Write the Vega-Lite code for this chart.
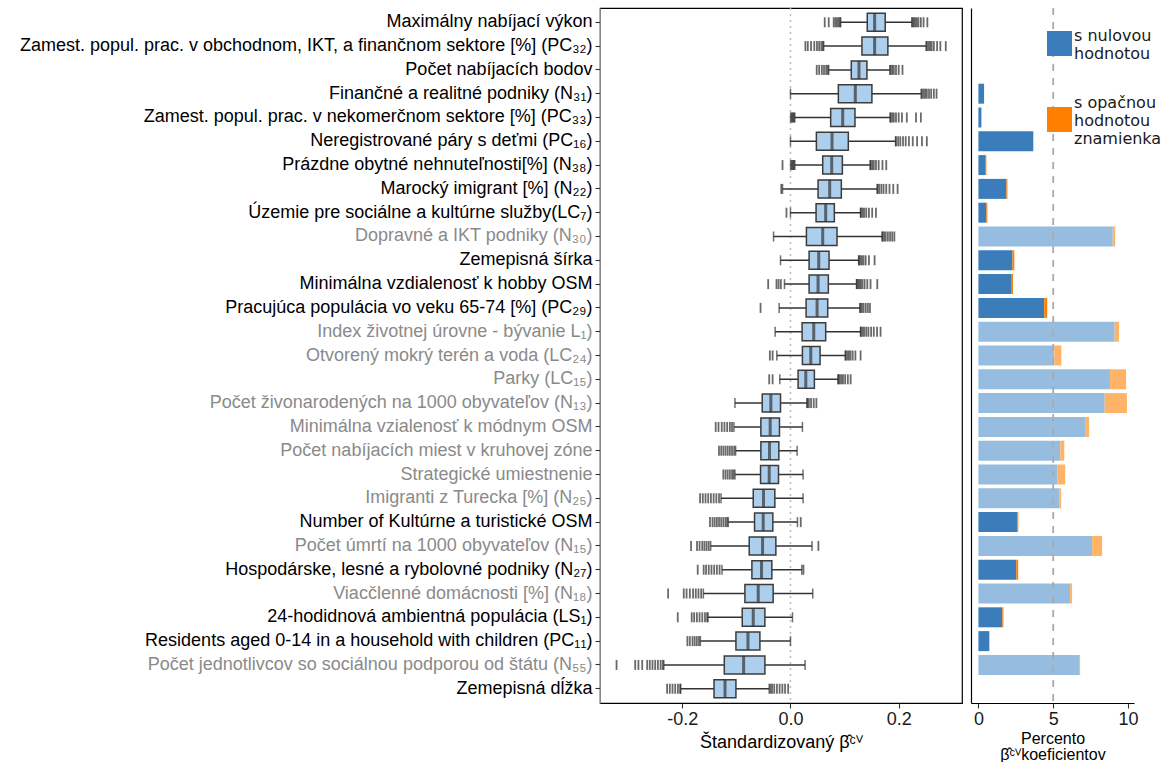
{
  "$schema": "https://vega.github.io/schema/vega-lite/v6.json",
  "padding": {"left": 18, "top": 6, "right": 0, "bottom": 0},
  "background": "white",
  "datasets": {
    "boxes": [
      {"id": 1, "name": "Maximálny nabíjací výkon", "lo": 0.0928, "q1": 0.1419, "med": 0.1555, "q3": 0.1751, "hi": 0.2243},
      {"id": 2, "name": "Zamest. popul. prac. v obchodnom, IKT, a finančnom sektore [%] (PC₃₂)", "lo": 0.0614, "q1": 0.1321, "med": 0.1555, "q3": 0.18, "hi": 0.2507},
      {"id": 3, "name": "Počet nabíjacích bodov", "lo": 0.0707, "q1": 0.1124, "med": 0.1266, "q3": 0.1413, "hi": 0.1837},
      {"id": 4, "name": "Finančné a realitné podniky (N₃₁)", "lo": 0.0, "q1": 0.0885, "med": 0.1198, "q3": 0.1505, "hi": 0.2415},
      {"id": 5, "name": "Zamest. popul. prac. v nekomerčnom sektore [%] (PC₃₃)", "lo": 0.008, "q1": 0.0743, "med": 0.0965, "q3": 0.1192, "hi": 0.1843},
      {"id": 6, "name": "Neregistrované páry s deťmi (PC₁₆)", "lo": 0.0, "q1": 0.0479, "med": 0.0768, "q3": 0.1069, "hi": 0.1942},
      {"id": 7, "name": "Prázdne obytné nehnuteľnosti[%] (N₃₈)", "lo": 0.008, "q1": 0.0596, "med": 0.0762, "q3": 0.0959, "hi": 0.1475},
      {"id": 8, "name": "Marocký imigrant [%] (N₂₂)", "lo": -0.0147, "q1": 0.051, "med": 0.0725, "q3": 0.094, "hi": 0.1604},
      {"id": 9, "name": "Územie pre sociálne a kultúrne služby(LC₇)", "lo": 0.0, "q1": 0.0473, "med": 0.0651, "q3": 0.0811, "hi": 0.1296},
      {"id": 10, "name": "Dopravné a IKT podniky (N₃₀)", "lo": -0.0313, "q1": 0.0295, "med": 0.0596, "q3": 0.086, "hi": 0.1696},
      {"id": 11, "name": "Zemepisná šírka", "lo": -0.0184, "q1": 0.0344, "med": 0.0522, "q3": 0.0713, "hi": 0.126},
      {"id": 12, "name": "Minimálna vzdialenosť k hobby OSM", "lo": -0.0111, "q1": 0.0344, "med": 0.051, "q3": 0.07, "hi": 0.1223},
      {"id": 13, "name": "Pracujúca populácia vo veku 65-74 [%] (PC₂₉)", "lo": -0.0209, "q1": 0.0289, "med": 0.0492, "q3": 0.0688, "hi": 0.1284},
      {"id": 14, "name": "Index životnej úrovne - bývanie L₁)", "lo": -0.0283, "q1": 0.0215, "med": 0.043, "q3": 0.0651, "hi": 0.1296},
      {"id": 15, "name": "Otvorený mokrý terén a voda (LC₂₄)", "lo": -0.0252, "q1": 0.0221, "med": 0.0375, "q3": 0.0547, "hi": 0.1014},
      {"id": 16, "name": "Parky (LC₁₅)", "lo": -0.0197, "q1": 0.0141, "med": 0.0283, "q3": 0.0442, "hi": 0.0879},
      {"id": 17, "name": "Počet živonarodených na 1000 obyvateľov (N₁₃)", "lo": -0.1026, "q1": -0.0522, "med": -0.0363, "q3": -0.0184, "hi": 0.0307},
      {"id": 18, "name": "Minimálna vzialenosť k módnym OSM", "lo": -0.1045, "q1": -0.0547, "med": -0.0375, "q3": -0.0203, "hi": 0.0221},
      {"id": 19, "name": "Počet nabíjacích miest v kruhovej zóne", "lo": -0.1014, "q1": -0.0547, "med": -0.0387, "q3": -0.0215, "hi": 0.0123},
      {"id": 20, "name": "Strategické umiestnenie", "lo": -0.1026, "q1": -0.0553, "med": -0.0393, "q3": -0.0221, "hi": 0.0233},
      {"id": 21, "name": "Imigranti z Turecka [%] (N₂₅)", "lo": -0.1284, "q1": -0.0688, "med": -0.0498, "q3": -0.0289, "hi": 0.0233},
      {"id": 22, "name": "Number of Kultúrne a turistické OSM", "lo": -0.1149, "q1": -0.0664, "med": -0.0504, "q3": -0.0326, "hi": 0.0129},
      {"id": 23, "name": "Počet úmrtí na 1000 obyvateľov (N₁₅)", "lo": -0.1475, "q1": -0.0762, "med": -0.0516, "q3": -0.027, "hi": 0.0399},
      {"id": 24, "name": "Hospodárske, lesné a rybolovné podniky (N₂₇)", "lo": -0.1266, "q1": -0.0713, "med": -0.0535, "q3": -0.0344, "hi": 0.0209},
      {"id": 25, "name": "Viacčlenné domácnosti [%] (N₁₈)", "lo": -0.161, "q1": -0.0842, "med": -0.0596, "q3": -0.032, "hi": 0.0412},
      {"id": 26, "name": "24-hodidnová ambientná populácia (LS₁)", "lo": -0.1524, "q1": -0.0891, "med": -0.0688, "q3": -0.0473, "hi": 0.0037},
      {"id": 27, "name": "Residents aged 0-14 in a household with children (PC₁₁)", "lo": -0.1665, "q1": -0.1008, "med": -0.0786, "q3": -0.0565, "hi": 0.0},
      {"id": 28, "name": "Počet jednotlivcov so sociálnou podporou od štátu (N₅₅)", "lo": -0.2341, "q1": -0.1223, "med": -0.0866, "q3": -0.0473, "hi": 0.027},
      {"id": 29, "name": "Zemepisná dĺžka", "lo": -0.2028, "q1": -0.1413, "med": -0.121, "q3": -0.1008, "hi": -0.0393}
    ],
    "outliers": [
      {"id": 1, "x": 0.0633}, {"id": 1, "x": 0.0707}, {"id": 1, "x": 0.0799}, {"id": 1, "x": 0.083}, {"id": 1, "x": 0.086}, {"id": 1, "x": 0.089}, {"id": 1, "x": 0.0915},
      {"id": 1, "x": 0.2255}, {"id": 1, "x": 0.228}, {"id": 1, "x": 0.2305}, {"id": 1, "x": 0.2335}, {"id": 1, "x": 0.2365}, {"id": 1, "x": 0.241}, {"id": 1, "x": 0.246}, {"id": 1, "x": 0.253},
      {"id": 2, "x": 0.0276}, {"id": 2, "x": 0.032}, {"id": 2, "x": 0.038}, {"id": 2, "x": 0.044}, {"id": 2, "x": 0.049}, {"id": 2, "x": 0.053}, {"id": 2, "x": 0.057}, {"id": 2, "x": 0.06},
      {"id": 2, "x": 0.252}, {"id": 2, "x": 0.255}, {"id": 2, "x": 0.258}, {"id": 2, "x": 0.261}, {"id": 2, "x": 0.265}, {"id": 2, "x": 0.271}, {"id": 2, "x": 0.277}, {"id": 2, "x": 0.287},
      {"id": 3, "x": 0.0485}, {"id": 3, "x": 0.053}, {"id": 3, "x": 0.058}, {"id": 3, "x": 0.062}, {"id": 3, "x": 0.066}, {"id": 3, "x": 0.069},
      {"id": 3, "x": 0.185}, {"id": 3, "x": 0.188}, {"id": 3, "x": 0.191}, {"id": 3, "x": 0.195}, {"id": 3, "x": 0.2}, {"id": 3, "x": 0.207},
      {"id": 4, "x": 0.243}, {"id": 4, "x": 0.246}, {"id": 4, "x": 0.249}, {"id": 4, "x": 0.252}, {"id": 4, "x": 0.256}, {"id": 4, "x": 0.26}, {"id": 4, "x": 0.265}, {"id": 4, "x": 0.27},
      {"id": 5, "x": 0.0005}, {"id": 5, "x": 0.0025}, {"id": 5, "x": 0.0045}, {"id": 5, "x": 0.0065},
      {"id": 5, "x": 0.185}, {"id": 5, "x": 0.188}, {"id": 5, "x": 0.191}, {"id": 5, "x": 0.195}, {"id": 5, "x": 0.2}, {"id": 5, "x": 0.206}, {"id": 5, "x": 0.215}, {"id": 5, "x": 0.232}, {"id": 5, "x": 0.241},
      {"id": 6, "x": 0.195}, {"id": 6, "x": 0.199}, {"id": 6, "x": 0.203}, {"id": 6, "x": 0.208}, {"id": 6, "x": 0.213}, {"id": 6, "x": 0.219}, {"id": 6, "x": 0.226}, {"id": 6, "x": 0.234}, {"id": 6, "x": 0.243}, {"id": 6, "x": 0.252},
      {"id": 7, "x": -0.0147}, {"id": 7, "x": 0.0005}, {"id": 7, "x": 0.0025}, {"id": 7, "x": 0.0045}, {"id": 7, "x": 0.0065},
      {"id": 7, "x": 0.148}, {"id": 7, "x": 0.151}, {"id": 7, "x": 0.154}, {"id": 7, "x": 0.158}, {"id": 7, "x": 0.163}, {"id": 7, "x": 0.17}, {"id": 7, "x": 0.177},
      {"id": 8, "x": -0.017},
      {"id": 8, "x": 0.161}, {"id": 8, "x": 0.164}, {"id": 8, "x": 0.168}, {"id": 8, "x": 0.172}, {"id": 8, "x": 0.177}, {"id": 8, "x": 0.183}, {"id": 8, "x": 0.19}, {"id": 8, "x": 0.198},
      {"id": 9, "x": -0.0074},
      {"id": 9, "x": 0.13}, {"id": 9, "x": 0.133}, {"id": 9, "x": 0.136}, {"id": 9, "x": 0.14}, {"id": 9, "x": 0.145}, {"id": 9, "x": 0.151}, {"id": 9, "x": 0.158},
      {"id": 10, "x": 0.17}, {"id": 10, "x": 0.173}, {"id": 10, "x": 0.176}, {"id": 10, "x": 0.18}, {"id": 10, "x": 0.184}, {"id": 10, "x": 0.188}, {"id": 10, "x": 0.192},
      {"id": 11, "x": 0.1265}, {"id": 11, "x": 0.129}, {"id": 11, "x": 0.132}, {"id": 11, "x": 0.135}, {"id": 11, "x": 0.139}, {"id": 11, "x": 0.145}, {"id": 11, "x": 0.1555},
      {"id": 12, "x": -0.0412}, {"id": 12, "x": -0.0258}, {"id": 12, "x": -0.022}, {"id": 12, "x": -0.0178},
      {"id": 12, "x": 0.1225}, {"id": 12, "x": 0.125}, {"id": 12, "x": 0.1275}, {"id": 12, "x": 0.13}, {"id": 12, "x": 0.133}, {"id": 12, "x": 0.137}, {"id": 12, "x": 0.142}, {"id": 12, "x": 0.148}, {"id": 12, "x": 0.1604},
      {"id": 13, "x": -0.0553},
      {"id": 13, "x": 0.129}, {"id": 13, "x": 0.132}, {"id": 13, "x": 0.135}, {"id": 13, "x": 0.139}, {"id": 13, "x": 0.143}, {"id": 13, "x": 0.1469},
      {"id": 14, "x": 0.13}, {"id": 14, "x": 0.133}, {"id": 14, "x": 0.136}, {"id": 14, "x": 0.14}, {"id": 14, "x": 0.144}, {"id": 14, "x": 0.149}, {"id": 14, "x": 0.154}, {"id": 14, "x": 0.16}, {"id": 14, "x": 0.1665},
      {"id": 15, "x": -0.0381}, {"id": 15, "x": -0.033},
      {"id": 15, "x": 0.102}, {"id": 15, "x": 0.105}, {"id": 15, "x": 0.108}, {"id": 15, "x": 0.111}, {"id": 15, "x": 0.115}, {"id": 15, "x": 0.12}, {"id": 15, "x": 0.1296},
      {"id": 16, "x": -0.0393}, {"id": 16, "x": -0.033},
      {"id": 16, "x": 0.0885}, {"id": 16, "x": 0.091}, {"id": 16, "x": 0.094}, {"id": 16, "x": 0.097}, {"id": 16, "x": 0.101}, {"id": 16, "x": 0.106}, {"id": 16, "x": 0.1112},
      {"id": 17, "x": 0.031}, {"id": 17, "x": 0.034}, {"id": 17, "x": 0.038}, {"id": 17, "x": 0.043}, {"id": 17, "x": 0.0479},
      {"id": 18, "x": -0.1382}, {"id": 18, "x": -0.133}, {"id": 18, "x": -0.127}, {"id": 18, "x": -0.122}, {"id": 18, "x": -0.117}, {"id": 18, "x": -0.112}, {"id": 18, "x": -0.108},
      {"id": 19, "x": -0.1321}, {"id": 19, "x": -0.128}, {"id": 19, "x": -0.124}, {"id": 19, "x": -0.12}, {"id": 19, "x": -0.116}, {"id": 19, "x": -0.112}, {"id": 19, "x": -0.108}, {"id": 19, "x": -0.104},
      {"id": 20, "x": -0.1241}, {"id": 20, "x": -0.12}, {"id": 20, "x": -0.116}, {"id": 20, "x": -0.112}, {"id": 20, "x": -0.108}, {"id": 20, "x": -0.105},
      {"id": 21, "x": -0.1671}, {"id": 21, "x": -0.162}, {"id": 21, "x": -0.157}, {"id": 21, "x": -0.152}, {"id": 21, "x": -0.147}, {"id": 21, "x": -0.142}, {"id": 21, "x": -0.137}, {"id": 21, "x": -0.132},
      {"id": 22, "x": -0.1487}, {"id": 22, "x": -0.144}, {"id": 22, "x": -0.14}, {"id": 22, "x": -0.136}, {"id": 22, "x": -0.132}, {"id": 22, "x": -0.128}, {"id": 22, "x": -0.124}, {"id": 22, "x": -0.12}, {"id": 22, "x": -0.117},
      {"id": 22, "x": 0.019},
      {"id": 23, "x": -0.1837}, {"id": 23, "x": -0.1727}, {"id": 23, "x": -0.168}, {"id": 23, "x": -0.163}, {"id": 23, "x": -0.159}, {"id": 23, "x": -0.155}, {"id": 23, "x": -0.151},
      {"id": 23, "x": 0.0516},
      {"id": 24, "x": -0.1714}, {"id": 24, "x": -0.1604}, {"id": 24, "x": -0.156}, {"id": 24, "x": -0.151}, {"id": 24, "x": -0.146}, {"id": 24, "x": -0.141}, {"id": 24, "x": -0.136}, {"id": 24, "x": -0.131},
      {"id": 24, "x": 0.024},
      {"id": 25, "x": -0.2261}, {"id": 25, "x": -0.1972}, {"id": 25, "x": -0.192}, {"id": 25, "x": -0.186}, {"id": 25, "x": -0.18}, {"id": 25, "x": -0.175}, {"id": 25, "x": -0.17}, {"id": 25, "x": -0.165},
      {"id": 26, "x": -0.2083}, {"id": 26, "x": -0.1825}, {"id": 26, "x": -0.178}, {"id": 26, "x": -0.173}, {"id": 26, "x": -0.168}, {"id": 26, "x": -0.163}, {"id": 26, "x": -0.158}, {"id": 26, "x": -0.154},
      {"id": 27, "x": -0.1905}, {"id": 27, "x": -0.186}, {"id": 27, "x": -0.181}, {"id": 27, "x": -0.177}, {"id": 27, "x": -0.173}, {"id": 27, "x": -0.169},
      {"id": 28, "x": -0.3214}, {"id": 28, "x": -0.2869}, {"id": 28, "x": -0.281}, {"id": 28, "x": -0.274}, {"id": 28, "x": -0.2648}, {"id": 28, "x": -0.26}, {"id": 28, "x": -0.255}, {"id": 28, "x": -0.25}, {"id": 28, "x": -0.245}, {"id": 28, "x": -0.24}, {"id": 28, "x": -0.236},
      {"id": 29, "x": -0.228}, {"id": 29, "x": -0.223}, {"id": 29, "x": -0.218}, {"id": 29, "x": -0.213}, {"id": 29, "x": -0.208}, {"id": 29, "x": -0.204},
      {"id": 29, "x": -0.037}, {"id": 29, "x": -0.034}, {"id": 29, "x": -0.03}, {"id": 29, "x": -0.025}, {"id": 29, "x": -0.02}, {"id": 29, "x": -0.015}, {"id": 29, "x": -0.01}, {"id": 29, "x": -0.0043}
    ],
    "bars": [
      {"id": 4, "kat": "nula_v", "pct": 0.38},
      {"id": 5, "kat": "nula_v", "pct": 0.2},
      {"id": 6, "kat": "nula_v", "pct": 3.67},
      {"id": 7, "kat": "nula_v", "pct": 0.44}, {"id": 7, "kat": "opak_v", "pct": 0.09},
      {"id": 8, "kat": "nula_v", "pct": 1.87}, {"id": 8, "kat": "opak_v", "pct": 0.07},
      {"id": 9, "kat": "nula_v", "pct": 0.53}, {"id": 9, "kat": "opak_v", "pct": 0.07},
      {"id": 10, "kat": "nula_n", "pct": 8.98}, {"id": 10, "kat": "opak_n", "pct": 0.16},
      {"id": 11, "kat": "nula_v", "pct": 2.27}, {"id": 11, "kat": "opak_v", "pct": 0.13},
      {"id": 12, "kat": "nula_v", "pct": 2.18}, {"id": 12, "kat": "opak_v", "pct": 0.13},
      {"id": 13, "kat": "nula_v", "pct": 4.4}, {"id": 13, "kat": "opak_v", "pct": 0.2},
      {"id": 14, "kat": "nula_n", "pct": 9.11}, {"id": 14, "kat": "opak_n", "pct": 0.29},
      {"id": 15, "kat": "nula_n", "pct": 5.07}, {"id": 15, "kat": "opak_n", "pct": 0.47},
      {"id": 16, "kat": "nula_n", "pct": 8.8}, {"id": 16, "kat": "opak_n", "pct": 1.07},
      {"id": 17, "kat": "nula_n", "pct": 8.44}, {"id": 17, "kat": "opak_n", "pct": 1.49},
      {"id": 18, "kat": "nula_n", "pct": 7.13}, {"id": 18, "kat": "opak_n", "pct": 0.27},
      {"id": 19, "kat": "nula_n", "pct": 5.47}, {"id": 19, "kat": "opak_n", "pct": 0.27},
      {"id": 20, "kat": "nula_n", "pct": 5.27}, {"id": 20, "kat": "opak_n", "pct": 0.53},
      {"id": 21, "kat": "nula_n", "pct": 5.4}, {"id": 21, "kat": "opak_n", "pct": 0.13},
      {"id": 22, "kat": "nula_v", "pct": 2.6}, {"id": 22, "kat": "opak_v", "pct": 0.07},
      {"id": 23, "kat": "nula_n", "pct": 7.6}, {"id": 23, "kat": "opak_n", "pct": 0.67},
      {"id": 24, "kat": "nula_v", "pct": 2.53}, {"id": 24, "kat": "opak_v", "pct": 0.13},
      {"id": 25, "kat": "nula_n", "pct": 6.13}, {"id": 25, "kat": "opak_n", "pct": 0.13},
      {"id": 26, "kat": "nula_v", "pct": 1.6}, {"id": 26, "kat": "opak_v", "pct": 0.07},
      {"id": 27, "kat": "nula_v", "pct": 0.73},
      {"id": 28, "kat": "nula_n", "pct": 6.73}, {"id": 28, "kat": "opak_n", "pct": 0.07}
    ]
  },
  "spacing": 8,
  "hconcat": [
    {
      "width": 362,
      "height": 695,
      "view": {"stroke": "black", "strokeWidth": 1.2},
      "encoding": {
        "y": {
          "field": "name",
          "type": "nominal",
          "sort": {"field": "id", "op": "min"},
          "scale": {"paddingInner": 0, "paddingOuter": 0.1},
          "axis": {
            "title": null,
            "labelLimit": 800,
            "labelPadding": 3,
            "labelColor": {
              "condition": {
                "test": "indexof(['Dopravné a IKT podniky (N₃₀)', 'Index životnej úrovne - bývanie L₁)', 'Otvorený mokrý terén a voda (LC₂₄)', 'Parky (LC₁₅)', 'Počet živonarodených na 1000 obyvateľov (N₁₃)', 'Minimálna vzialenosť k módnym OSM', 'Počet nabíjacích miest v kruhovej zóne', 'Strategické umiestnenie', 'Imigranti z Turecka [%] (N₂₅)', 'Počet úmrtí na 1000 obyvateľov (N₁₅)', 'Viacčlenné domácnosti [%] (N₁₈)', 'Počet jednotlivcov so sociálnou podporou od štátu (N₅₅)'], datum.value) >= 0",
                "value": "#8a8a8a"
              },
              "value": "#000000"
            }
          }
        }
      },
      "layer": [
        {
          "data": {"values": [{"nula": 0}]},
          "mark": {"type": "rule", "color": "#bdbdbd", "strokeWidth": 1.5, "strokeDash": [2, 4]},
          "encoding": {"x": {"field": "nula", "type": "quantitative"}, "y": null}
        },
        {
          "data": {"name": "boxes"},
          "mark": {"type": "rule", "color": "#333333", "strokeWidth": 1.5},
          "encoding": {
            "x": {
              "field": "lo",
              "type": "quantitative",
              "scale": {"domain": [-0.352, 0.317], "nice": false, "zero": false},
              "axis": {
                "values": [-0.2, 0, 0.2],
                "format": ".1f",
                "labelExpr": "replace(datum.label, '\u2212', '-')",
                "domain": false,
                "grid": false,
                "title": "Štandardizovaný β̂ᶜⱽ",
                "titlePadding": 5
              }
            },
            "x2": {"field": "hi"}
          }
        },
        {
          "data": {"name": "boxes"},
          "mark": {"type": "tick", "color": "#333333", "thickness": 1.5, "size": 10},
          "encoding": {"x": {"field": "lo", "type": "quantitative"}}
        },
        {
          "data": {"name": "boxes"},
          "mark": {"type": "tick", "color": "#333333", "thickness": 1.5, "size": 10},
          "encoding": {"x": {"field": "hi", "type": "quantitative"}}
        },
        {
          "data": {"name": "outliers"},
          "transform": [
            {"lookup": "id", "from": {"data": {"name": "boxes"}, "key": "id", "fields": ["name"]}}
          ],
          "mark": {"type": "tick", "color": "#2b2b2b", "opacity": 0.7, "thickness": 1.8, "size": 10},
          "encoding": {"x": {"field": "x", "type": "quantitative"}}
        },
        {
          "data": {"name": "boxes"},
          "mark": {"type": "bar", "fill": "#abcfec", "stroke": "#3c3c3c", "strokeWidth": 1.5, "size": 18},
          "encoding": {
            "x": {"field": "q1", "type": "quantitative"},
            "x2": {"field": "q3"}
          }
        },
        {
          "data": {"name": "boxes"},
          "mark": {"type": "tick", "color": "#333333", "thickness": 3, "size": 18},
          "encoding": {"x": {"field": "med", "type": "quantitative"}}
        }
      ]
    },
    {
      "width": 163,
      "height": 695,
      "layer": [
        {
          "data": {"name": "bars"},
          "mark": {"type": "bar", "size": 20},
          "encoding": {
            "y": {
              "field": "id",
              "type": "ordinal",
              "scale": {"domain": [1, 2, 3, 4, 5, 6, 7, 8, 9, 10, 11, 12, 13, 14, 15, 16, 17, 18, 19, 20, 21, 22, 23, 24, 25, 26, 27, 28, 29], "paddingInner": 0, "paddingOuter": 0.1},
              "axis": {"labels": false, "ticks": false, "title": null, "domain": true, "domainColor": "#000000", "domainWidth": 1.2}
            },
            "x": {
              "field": "pct",
              "type": "quantitative",
              "stack": "zero",
              "scale": {"domain": [-0.495, 10.4], "nice": false, "zero": false},
              "axis": {
                "values": [0, 5, 10],
                "grid": false,
                "domainColor": "#000000",
                "domainWidth": 1.2,
                "title": ["Percento", "β̂ᶜⱽkoeficientov"],
                "titleFontSize": 16,
                "titlePadding": 2,
                "titleLineHeight": 16
              }
            },
            "color": {
              "field": "kat",
              "type": "nominal",
              "scale": {
                "domain": ["nula_v", "nula_n", "opak_v", "opak_n"],
                "range": ["#3a7dba", "#96bde0", "#ff7f00", "#ffb366"]
              },
              "legend": {
                "values": ["nula_v", "opak_v"],
                "orient": "none",
                "legendX": 447,
                "legendY": 23,
                "title": null,
                "padding": 0,
                "symbolType": "square",
                "symbolSize": 625,
                "symbolStrokeWidth": 0,
                "symbolOpacity": 1,
                "labelFont": "DejaVu Sans",
                "labelFontSize": 16,
                "labelColor": "#1a1a1a",
                "labelOffset": 2,
                "rowPadding": 32,
                "labelExpr": "datum.value == 'nula_v' ? ['s nulovou', 'hodnotou'] : ['s opačnou', 'hodnotou', 'znamienka']",
                "encode": {
                  "labels": {
                    "update": {
                      "dy": {"signal": "datum.value == 'nula_v' ? -8 : -17"}
                    }
                  }
                }
              }
            },
            "order": {"field": "kat", "type": "nominal"}
          }
        },
        {
          "data": {"values": [{"hranica": 5}]},
          "mark": {"type": "rule", "color": "#aaaaaa", "strokeWidth": 1.8, "strokeDash": [7, 7]},
          "encoding": {"x": {"field": "hranica", "type": "quantitative"}}
        }
      ]
    }
  ],
  "config": {
    "font": "Liberation Sans",
    "view": {"stroke": null},
    "axis": {
      "labelFont": "Liberation Sans",
      "labelFontSize": 18,
      "labelColor": "#1a1a1a",
      "titleFont": "Liberation Sans",
      "titleFontSize": 18,
      "titleFontWeight": "normal",
      "titleColor": "#000000",
      "tickColor": "#333333",
      "tickSize": 5,
      "tickWidth": 1.1,
      "grid": false
    }
  }
}
